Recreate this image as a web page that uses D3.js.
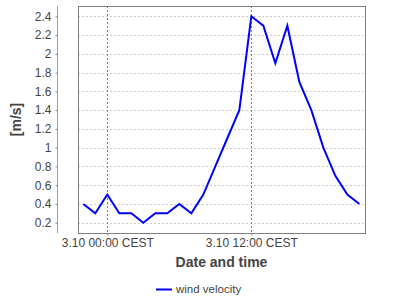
<!DOCTYPE html>
<html>
<head>
  <meta charset="UTF-8">
  <style>
    body { margin: 0; background: #fff; }
    svg { display: block; font-family: "Liberation Sans", Arial, sans-serif; }
  </style>
</head>
<body>
  <script src="https://d3js.org/d3.v7.min.js"></script>
  <script>
    // hours relative to 3.10 00:00 CEST
    var hours = [-2, -1, 0, 1, 2, 3, 4, 5, 6, 7, 8, 9, 10, 11, 12, 13, 14, 15, 16, 17, 18, 19, 20, 21];
    var velocity = [0.4, 0.3, 0.5, 0.3, 0.3, 0.2, 0.3, 0.3, 0.4, 0.3, 0.5, 0.8, 1.1, 1.4, 2.4, 2.3, 1.9, 2.3, 1.7, 1.4, 1.0, 0.7, 0.5, 0.4];
    var yTicks = [0.2, 0.4, 0.6, 0.8, 1, 1.2, 1.4, 1.6, 1.8, 2, 2.2, 2.4];
    var xTicks = [0, 12];
    var xTickLabels = ["3.10 00:00 CEST", "3.10 12:00 CEST"];
    var seriesName = "wind velocity";

    var W = 400, H = 300;
    var plot = { left: 78, top: 6, right: 365, bottom: 233 };

    var svg = d3.select("body").append("svg").attr("width", W).attr("height", H);

    var x = d3.scaleLinear().domain([-2.44, 21.47]).range([plot.left, plot.right]);
    var y = d3.scaleLinear().domain([0.09, 2.51]).range([plot.bottom, plot.top]);

    // horizontal grid
    svg.append("g").selectAll("line").data(yTicks).enter().append("line")
      .attr("x1", plot.left).attr("x2", plot.right)
      .attr("y1", function(d) { return Math.round(y(d)) + 0.5; })
      .attr("y2", function(d) { return Math.round(y(d)) + 0.5; })
      .attr("stroke", "#cccccc").attr("stroke-dasharray", "2,2");

    // vertical grid
    svg.append("g").selectAll("line").data(xTicks).enter().append("line")
      .attr("x1", function(d) { return Math.round(x(d)) + 0.5; })
      .attr("x2", function(d) { return Math.round(x(d)) + 0.5; })
      .attr("y1", plot.top).attr("y2", plot.bottom)
      .attr("stroke", "#808080").attr("stroke-dasharray", "2,2");

    // plot border
    svg.append("rect")
      .attr("x", plot.left + 0.5).attr("y", plot.top + 0.5)
      .attr("width", plot.right - plot.left).attr("height", plot.bottom - plot.top)
      .attr("fill", "none").attr("stroke", "#808080");

    // y axis (offset)
    var yAxis = d3.axisLeft(y).tickValues(yTicks).tickSize(2).tickPadding(4)
      .tickFormat(function(d) { return d3.format("~g")(d); });
    var gy = svg.append("g").attr("transform", "translate(57.5,0)").call(yAxis);
    gy.select(".domain").attr("d", "M0," + plot.top + "V" + plot.bottom).attr("stroke", "#a0a0a0");
    gy.selectAll(".tick line").attr("stroke", "#808080");
    gy.selectAll("text").attr("font-family", "Liberation Sans").attr("font-size", 12).attr("fill", "#444");

    // x axis
    var xAxis = d3.axisBottom(x).tickValues(xTicks).tickSize(2).tickPadding(3)
      .tickFormat(function(d, i) { return xTickLabels[i]; });
    var gx = svg.append("g").attr("transform", "translate(0," + (plot.bottom + 0.5) + ")").call(xAxis);
    gx.select(".domain").remove();
    gx.selectAll(".tick line").attr("stroke", "#808080");
    gx.selectAll("text").attr("font-family", "Liberation Sans").attr("font-size", 12).attr("fill", "#444");

    // series line
    var line = d3.line()
      .x(function(d, i) { return x(hours[i]); })
      .y(function(d) { return y(d); });
    svg.append("path").datum(velocity)
      .attr("d", line)
      .attr("fill", "none").attr("stroke", "#0000ff").attr("stroke-width", 2)
      .attr("stroke-linejoin", "miter");

    // axis labels
    svg.append("text")
      .attr("x", (plot.left + plot.right) / 2).attr("y", 267)
      .attr("text-anchor", "middle").attr("font-size", 14).attr("font-weight", "bold")
      .attr("fill", "#444").text("Date and time");

    svg.append("text")
      .attr("transform", "translate(21," + ((plot.top + plot.bottom) / 2) + ") rotate(-90)")
      .attr("text-anchor", "middle").attr("font-size", 14).attr("font-weight", "bold")
      .attr("fill", "#444").text("[m/s]");

    // legend
    var lg = svg.append("g").attr("transform", "translate(156,289)");
    lg.append("line").attr("x1", 0).attr("x2", 16).attr("y1", 0.5).attr("y2", 0.5)
      .attr("stroke", "#0000ff").attr("stroke-width", 2);
    lg.append("text").attr("x", 20).attr("y", 4).attr("font-size", 11.5)
      .attr("fill", "#444").text(seriesName);
  </script>
</body>
</html>
